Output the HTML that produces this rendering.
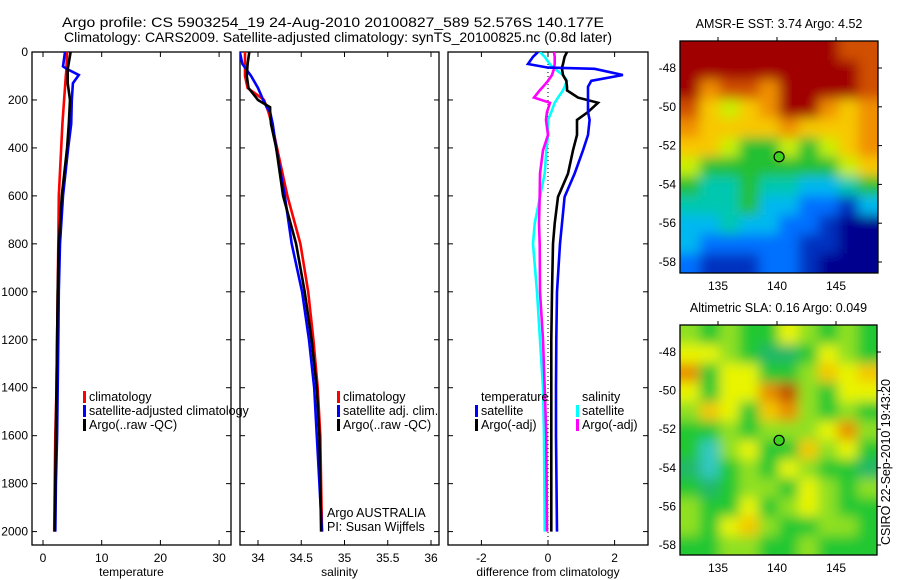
<!DOCTYPE html>
<html><head><meta charset="utf-8">
<style>
html,body{margin:0;padding:0;background:#fff;}
svg{display:block;font-family:"Liberation Sans",sans-serif;}
</style></head>
<body>
<svg id="c" width="900" height="580" viewBox="0 0 900 580" xmlns="http://www.w3.org/2000/svg">
<defs>
<clipPath id="cp1"><rect x="32" y="52" width="199" height="493"/></clipPath>
<clipPath id="cp2"><rect x="240" y="52" width="199" height="493"/></clipPath>
<clipPath id="cp3"><rect x="448" y="52" width="200" height="493"/></clipPath>
<clipPath id="cm1"><rect x="680" y="41" width="198" height="232"/></clipPath>
<clipPath id="cm2"><rect x="680" y="325" width="197" height="230"/></clipPath>
<filter id="bl" filterUnits="userSpaceOnUse" x="600" y="0" width="300" height="580"><feGaussianBlur stdDeviation="6"/></filter>
</defs>
<text x="62" y="27" font-size="14" textLength="542" lengthAdjust="spacingAndGlyphs">Argo profile: CS 5903254_19 24-Aug-2010 20100827_589 52.576S 140.177E</text>
<text x="64" y="42" font-size="14" textLength="548" lengthAdjust="spacingAndGlyphs">Climatology: CARS2009. Satellite-adjusted climatology: synTS_20100825.nc (0.8d later)</text>
<g id="g"></g>
</svg>
<script>
// ---------- data ----------
const depthsT = [0,60,70,96,130,200,300,400,600,800,1000,1200,1400,1600,1800,2000];
const tempClim = [4.1,4.0,4.0,3.9,3.8,3.6,3.3,3.1,2.7,2.6,2.5,2.4,2.3,2.1,2.0,1.9];
const tempSat  = [3.75,3.4,4.0,6.1,5.1,4.9,4.8,4.3,3.4,2.9,2.7,2.6,2.5,2.4,2.2,2.1];
const tempArgo = [4.7,4.3,4.2,4.2,4.2,4.6,4.4,4.1,3.2,2.7,2.5,2.4,2.3,2.2,2.1,2.0];
const depthsS = [0,50,100,150,200,230,250,300,400,600,800,1000,1200,1400,1600,1800,2000];
const salClim = [33.85,33.85,33.85,33.88,34.07,34.10,34.12,34.16,34.22,34.34,34.49,34.58,34.64,34.69,34.72,34.73,34.74];
const salSat  = [33.79,33.82,33.92,34.00,34.06,34.10,34.14,34.17,34.21,34.31,34.39,34.51,34.59,34.65,34.68,34.71,34.74];
const salArgo = [33.90,33.88,33.87,33.89,34.00,34.14,34.14,34.15,34.21,34.29,34.44,34.54,34.62,34.68,34.71,34.72,34.73];
const dDepth = [0,20,50,65,70,96,120,145,160,190,212,250,283,346,410,507,604,715,800,1000,1200,1400,1600,2000];
const dTempSat  = [-0.3,-0.45,-0.6,0.0,1.4,2.25,1.3,1.2,1.2,1.2,1.2,1.2,1.25,1.2,1.05,0.8,0.5,0.42,0.36,0.27,0.25,0.24,0.24,0.27];
const dTempArgo = [0.57,0.5,0.45,0.42,0.42,0.45,0.55,0.57,0.57,0.9,1.5,1.2,0.87,0.87,0.75,0.6,0.3,0.2,0.15,0.12,0.1,0.1,0.1,0.1];
const dSalSat   = [-0.24,-0.1,0.05,0.15,0.2,0.45,0.57,0.5,0.45,0.3,0.2,0.1,0.0,0.0,-0.05,-0.1,-0.24,-0.4,-0.45,-0.33,-0.24,-0.15,-0.12,-0.1];
const dSalArgo  = [0.18,0.2,0.2,0.18,0.18,0.12,0.0,-0.15,-0.25,-0.42,0.06,-0.03,-0.06,0.0,-0.15,-0.24,-0.25,-0.27,-0.25,-0.24,-0.15,-0.1,-0.05,-0.03];
const depthTicks = [0,200,400,600,800,1000,1200,1400,1600,1800,2000];
const tempTicks = [0,10,20,30];
const salTicks = [34,34.5,35,35.5,36];
const salTickLabels = ["34","34.5","35","35.5","36"];
const diffTicks = [-2,0,2];
const latTicks = [-48,-50,-52,-54,-56,-58];
const lonTicks = [135,140,145];
const sstGrid = [
[10,10,10,10,10,10,10,10,9,9],
[10,10,10,10,10,10,10,10,10,9],
[10,8,9,9,8,10,10,10,10,9],
[9,7,6,7,8,10,10,8,7,8],
[8,7,7,7,7,8,7,7,7,8],
[7,7,6,5,5,6,5,6,7,8],
[6,5,5,5,5,5,5,5,6,7],
[5,4,4,5,4,4,3,3,4,5],
[4,4,4,5,3,3,2,2,1,3],
[3,3,4,3,3,2,2,1,0,0],
[3,2,2,2,2,2,1,1,0,0],
[2,1,1,1,2,2,1,0,0,0]];
const sstColors = ["#00008f","#0030c0","#0070ff","#00b8f0","#00c8b0","#20c030","#c8f000","#f8c800","#f09000","#d05000","#a00000"];
const slaGrid = [
[3,2,3,2,2,4,3,2,3,2],
[4,4,3,2,1,1,2,4,3,2],
[6,2,4,4,2,2,3,5,4,5],
[4,2,4,4,6,7,3,2,4,4],
[3,5,4,2,5,6,3,2,3,2],
[2,2,3,2,3,3,3,4,6,3],
[2,0,3,4,2,2,5,3,4,2],
[1,0,2,3,2,4,3,2,2,1],
[2,1,2,3,3,2,4,3,2,3],
[3,2,2,4,2,3,4,3,2,2],
[3,2,4,5,3,2,2,3,3,2],
[2,2,3,3,2,2,3,2,2,2]];
const slaColors = ["#30c8c0","#20b868","#20c830","#90e020","#e8f400","#f4c800","#e89000","#c05000"];
const argoLon = 140.177, argoLat = -52.576;

// ---------- helpers ----------
const NS = "http://www.w3.org/2000/svg";
const G = document.getElementById("g");
function mk(tag, attrs, parent){
  const e = document.createElementNS(NS, tag);
  for (const k in attrs) e.setAttribute(k, attrs[k]);
  (parent||G).appendChild(e); return e;
}
function txt(x,y,s,size,anchor,parent){
  const t = mk("text",{x:x,y:y,"font-size":size,"text-anchor":anchor||"start"},parent);
  t.textContent = s; return t;
}
const yD = d => 52 + 0.2398*d;
const xT = t => 43 + 5.87*t;
const xS = s => 258 + 86.5*(s-34);
const xDf = v => 548 + 33.3*v;

function panel(name, x0, x1, xf, ticks, labels, xlabel, clip){
  const g = mk("g",{});
  
  
  const fr = mk("rect",{x:x0,y:52,width:x1-x0,height:493,fill:"none",stroke:"#000","stroke-width":1.3},g);
  
  
  ticks.forEach((v,i)=>{
    const x = xf(v);
    mk("line",{x1:x,x2:x,y1:52,y2:57,stroke:"#000"},g);
    mk("line",{x1:x,x2:x,y1:545,y2:540,stroke:"#000"},g);
    const t = txt(x,562,labels[i],12,"middle",g);
    
    
  });
  depthTicks.forEach(d=>{
    const y = yD(d);
    mk("line",{x1:x0,x2:x0+5,y1:y,y2:y,stroke:"#000"},g);
    mk("line",{x1:x1,x2:x1-5,y1:y,y2:y,stroke:"#000"},g);
  });
  const xl = txt((x0+x1)/2,576,xlabel,12,"middle",g);
  
  
  const lg = mk("g",{"clip-path":"url(#"+clip+")"},g);
  return lg;
}
function line(parent, depths, vals, xf, color, name, w){
  const pts = depths.map((d,i)=>xf(vals[i]).toFixed(1)+","+yD(d).toFixed(1)).join(" ");
  const p = mk("polyline",{points:pts,fill:"none",stroke:color,"stroke-width":w||2.6,"stroke-linejoin":"miter"},parent);
  
  
}
function legend(x,y,items){
  items.forEach((it,i)=>{
    const yy = y + i*14;
    if (it[1]) mk("rect",{x:x,y:yy-10,width:3,height:12,fill:it[1]});
    const t = txt(x+6,yy,it[0],12.5,"start");
    
    
  });
}

depthTicks.forEach(d=>{
  const t = txt(28,yD(d)+4,String(d),12,"end");
  
  
});

const p1 = panel("temperature-panel",32,231,xT,tempTicks,tempTicks.map(String),"temperature","cp1");
line(p1, depthsT, tempClim, xT, "#f00", "temp-climatology-line");
line(p1, depthsT, tempSat, xT, "#00f", "temp-satellite-line");
line(p1, depthsT, tempArgo, xT, "#000", "temp-argo-line");
legend(83,401,[["climatology","#f00"],["satellite-adjusted climatology","#00f"],["Argo(..raw -QC)","#000"]]);

const p2 = panel("salinity-panel",240,439,xS,salTicks,salTickLabels,"salinity","cp2");
line(p2, depthsS, salClim, xS, "#f00", "sal-climatology-line");
line(p2, depthsS, salSat, xS, "#00f", "sal-satellite-line");
line(p2, depthsS, salArgo, xS, "#000", "sal-argo-line");
legend(337,401,[["climatology","#f00"],["satellite adj. clim.","#00f"],["Argo(..raw -QC)","#000"]]);
const a1 = txt(327,517,"Argo AUSTRALIA",12.5,"start");


const a2 = txt(327,531,"PI: Susan Wijffels",12.5,"start");



const p3 = panel("difference-panel",448,648,xDf,diffTicks,diffTicks.map(String),"difference from climatology","cp3");
const zl = mk("line",{x1:xDf(0),x2:xDf(0),y1:52,y2:545,stroke:"#000","stroke-dasharray":"1,3"},p3);


line(p3, dDepth, dSalSat, xDf, "#0ff", "sal-diff-satellite-line");
line(p3, dDepth, dSalArgo, xDf, "#f0f", "sal-diff-argo-line");
line(p3, dDepth, dTempArgo, xDf, "#000", "temp-diff-argo-line");
line(p3, dDepth, dTempSat, xDf, "#00f", "temp-diff-satellite-line");
legend(475,401,[["temperature",null],["satellite","#00f"],["Argo(-adj)","#000"]]);
legend(576,401,[["salinity",null],["satellite","#0ff"],["Argo(-adj)","#f0f"]]);

function map(name, x0,y0,w,h, grid, colors, clip, title, lonF, latF, lonLabelY){
  const g = mk("g",{});
  
  
  const tt = txt(x0+w/2, y0-13, title, 12.5, "middle", g);
  
  
  const cg = mk("g",{"clip-path":"url(#"+clip+")"},g);
  const bg = mk("g",{filter:"url(#bl)"},cg);
  const rows = grid.length, cols = grid[0].length;
  const cw = w/cols, ch = h/rows;
  grid.forEach((r,i)=>r.forEach((v,j)=>{
    let x = x0 + j*cw, y = y0 + i*ch, ww = cw+0.5, hh = ch+0.5;
    if (j===0){x-=15; ww+=15;} if (j===cols-1) ww+=15;
    if (i===0){y-=15; hh+=15;} if (i===rows-1) hh+=15;
    const c = mk("rect",{x:x,y:y,width:ww,height:hh,fill:colors[v]},bg);
    
    
  }));
  const dot = mk("circle",{cx:lonF(argoLon),cy:latF(argoLat),r:5,fill:"#40d020",stroke:"#000","stroke-width":1.2},g);
  
  
  mk("rect",{x:x0,y:y0,width:w,height:h,fill:"none",stroke:"#000","stroke-width":1.3},g);
  latTicks.forEach(l=>{
    const y = latF(l);
    mk("line",{x1:x0+w,x2:x0+w+4,y1:y,y2:y,stroke:"#000"},g);
    const t = txt(x0-4,y+4,String(l),12,"end",g);
    
    
  });
  lonTicks.forEach(l=>{
    const x = lonF(l);
    mk("line",{x1:x,x2:x,y1:y0,y2:y0-4,stroke:"#000"},g);
    const t = txt(x,lonLabelY,String(l),12,"middle",g);
    
    
  });
}
map("sst-map",680,41,198,232,sstGrid,sstColors,"cm1","AMSR-E SST: 3.74 Argo: 4.52",
    l=>718+11.8*(l-135), la=>68+19.4*(-48-la), 290);
map("sla-map",680,325,197,230,slaGrid,slaColors,"cm2","Altimetric SLA: 0.16 Argo: 0.049",
    l=>718+11.8*(l-135), la=>352+19.3*(-48-la), 572);
const cs = txt(0,0,"CSIRO 22-Sep-2010 19:43:20",12.5,"middle");
cs.setAttribute("transform","translate(890,462) rotate(-90)");
cs.setAttribute("textLength","166");


</script>
</body></html>
